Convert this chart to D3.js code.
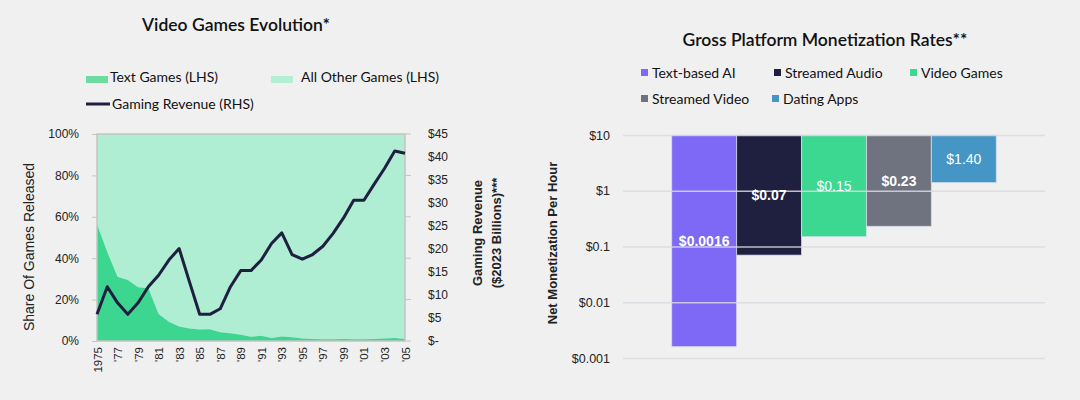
<!DOCTYPE html>
<html>
<head>
<meta charset="utf-8">
<script src="https://cdn.jsdelivr.net/npm/d3@7"></script>
<style>
  body { margin: 0; background: #f0f0f0; }
  svg { display: block; }
  .ttl { font-family: Lato, "Open Sans", sans-serif; fill: #111; }
  .ax { font-family: "Liberation Sans", Arial, sans-serif; fill: #222; }
</style>
</head>
<body>
<div class="chart"></div>
<script>
// left chart data
const years = d3.range(1975, 2006)
const textShare = [56.4, 43, 31, 29.5, 26, 25.5, 13, 9.3, 7, 6, 5.5, 5.7, 4.2, 3.7, 3, 2, 2.5, 1.5, 2.2, 1.8,
	1.2, 1.0, 0.8, 0.8, 1.0, 0.8, 0.8, 1.0, 1.2, 1.5, 1.0]
const revenue = [5.8, 11.8, 8.3, 5.8, 8.3, 11.8, 14.3, 17.6, 20.1, 12.9, 5.8, 5.8, 7, 11.8, 15.3, 15.3, 17.6, 21.2, 23.5, 18.8,
	17.8, 18.8, 20.6, 23.4, 26.7, 30.6, 30.6, 34.1, 37.5, 41.3, 40.8]
const shareTicks = [0, 20, 40, 60, 80, 100]
const revTicks = [0, 5, 10, 15, 20, 25, 30, 35, 40, 45]

// right chart data
const platforms = ["Text-based AI", "Streamed Audio", "Video Games", "Streamed Video", "Dating Apps"]
const rates = [0.0016, 0.07, 0.15, 0.23, 1.40]
const rateLabels = ["$0.0016", "$0.07", "$0.15", "$0.23", "$1.40"]
const labelBold = [true, true, false, true, false]
const platformColors = ["#7d69f5", "#1f1f40", "#3cd892", "#6f7380", "#4596c4"]
const logTicks = [0.001, 0.01, 0.1, 1, 10]
const logTickLabels = ["$0.001", "$0.01", "$0.1", "$1", "$10"]

const svg = d3.select(".chart").append("svg")
	.attr("width", 1080)
	.attr("height", 400)

// ---------- LEFT: Video Games Evolution ----------
const L = {left: 97, right: 405, top: 134, bottom: 341}
const x = d3.scaleLinear().domain([1975, 2005]).range([L.left, L.right])
const yL = d3.scaleLinear().domain([0, 100]).range([L.bottom, L.top])
const yR = d3.scaleLinear().domain([0, 45]).range([L.bottom, L.top])

svg.append("text").attr("class", "ttl")
	.attr("x", 236).attr("y", 31)
	.attr("text-anchor", "middle")
	.attr("font-size", "17.5px")
	.attr("font-weight", 600)
	.text("Video Games Evolution*")

// legend
const lg = svg.append("g").attr("class", "ttl").attr("font-size", "14px")
lg.append("rect").attr("x", 86).attr("y", 76).attr("width", 22).attr("height", 7).attr("fill", "#6fdc9f")
lg.append("text").attr("x", 110).attr("y", 82).text("Text Games (LHS)")
lg.append("rect").attr("x", 271).attr("y", 76).attr("width", 22).attr("height", 7).attr("fill", "#b4eed3")
lg.append("text").attr("x", 301).attr("y", 82).text("All Other Games (LHS)")
lg.append("line").attr("x1", 86).attr("x2", 110).attr("y1", 104).attr("y2", 104)
	.attr("stroke", "#1f1f40").attr("stroke-width", 3)
lg.append("text").attr("x", 112).attr("y", 109).text("Gaming Revenue (RHS)")

const rows = years.map((yr, i) => ({year: yr, text: textShare[i], rev: revenue[i]}))

svg.append("path").datum(rows)
	.attr("fill", "#b0eed3")
	.attr("d", d3.area().x(d => x(d.year)).y0(d => yL(d.text)).y1(yL(100)))
svg.append("path").datum(rows)
	.attr("fill", "#3dd690")
	.attr("d", d3.area().x(d => x(d.year)).y0(yL(0)).y1(d => yL(d.text)))

// frame
svg.append("rect")
	.attr("x", L.left).attr("y", L.top)
	.attr("width", L.right - L.left).attr("height", L.bottom - L.top)
	.attr("fill", "none").attr("stroke", "#c4c4c4").attr("stroke-width", 1.5)

// left axis
const yLAxis = d3.axisLeft(yL).tickValues(shareTicks).tickSize(5).tickPadding(13).tickFormat(d => d + "%")
const gL = svg.append("g").attr("class", "ax").attr("transform", "translate(" + L.left + ",0)").call(yLAxis)
gL.select(".domain").remove()
gL.selectAll("line").attr("stroke", "#c4c4c4")
gL.selectAll("text").attr("font-size", "12px").attr("font-family", null).attr("fill", "#222")

// right axis
const yRAxis = d3.axisRight(yR).tickValues(revTicks).tickSize(0).tickPadding(23)
	.tickFormat(d => d === 0 ? "$-" : "$" + d)
const gR = svg.append("g").attr("class", "ax").attr("transform", "translate(" + L.right + ",0)").call(yRAxis)
gR.select(".domain").remove()
gR.selectAll("text").attr("font-size", "12px").attr("font-family", null).attr("fill", "#222")

// small ticks on the right edge, at the LHS tick positions
svg.append("g").selectAll("line")
	.data(shareTicks)
	.enter()
	.append("line")
	.attr("x1", L.right).attr("x2", L.right + 6)
	.attr("y1", d => yL(d)).attr("y2", d => yL(d))
	.attr("stroke", "#c4c4c4")

// x axis
const xAxis = d3.axisBottom(x).tickValues(d3.range(1975, 2006, 2)).tickSize(0)
	.tickFormat(d => d === 1975 ? "1975" : "'" + String(d).slice(2))
const gX = svg.append("g").attr("class", "ax").attr("transform", "translate(0," + L.bottom + ")").call(xAxis)
gX.select(".domain").remove()
gX.selectAll("text")
	.attr("font-size", "11.5px").attr("font-family", null).attr("fill", "#222")
	.attr("text-anchor", "end")
	.attr("transform", "rotate(-90)")
	.attr("x", -6).attr("y", 0).attr("dy", "0.35em")

// revenue line
svg.append("path").datum(rows)
	.attr("fill", "none")
	.attr("stroke", "#1f1f40")
	.attr("stroke-width", 3)
	.attr("stroke-linejoin", "round")
	.attr("d", d3.line().x(d => x(d.year)).y(d => yR(d.rev)))

// axis titles
svg.append("text").attr("class", "ax")
	.attr("transform", "translate(34,247) rotate(-90)")
	.attr("text-anchor", "middle").attr("font-size", "14px")
	.text("Share Of Games Released")
const rt = svg.append("text").attr("class", "ax")
	.attr("transform", "translate(482,233) rotate(-90)")
	.attr("text-anchor", "middle").attr("font-size", "13px").attr("font-weight", "bold")
rt.append("tspan").attr("x", 0).attr("y", 0).text("Gaming Revenue")
rt.append("tspan").attr("x", 0).attr("y", 19).text("($2023 Billions)***")

// ---------- RIGHT: Gross Platform Monetization Rates ----------
const R = {left: 623, right: 1045, top: 135, bottom: 358}
const xb = d3.scaleBand().domain(platforms).range([R.left, R.right]).paddingInner(0).paddingOuter(0.75)
const yLog = d3.scaleLog().domain([0.001, 10]).range([R.bottom, R.top])

svg.append("text").attr("class", "ttl")
	.attr("x", 825).attr("y", 46)
	.attr("text-anchor", "middle")
	.attr("font-size", "17.5px")
	.attr("font-weight", 600)
	.text("Gross Platform Monetization Rates**")

// legend
const legPos = [[644, 73], [777, 73], [913, 73], [644, 99], [775, 99]]
const rl = svg.append("g").attr("class", "ttl").attr("font-size", "14px")
platforms.forEach((p, i) => {
	rl.append("rect").attr("x", legPos[i][0] - 3).attr("y", legPos[i][1] - 4)
		.attr("width", 7).attr("height", 7).attr("fill", platformColors[i])
	rl.append("text").attr("x", legPos[i][0] + 8).attr("y", legPos[i][1] + 5).text(p)
})

const bars = platforms.map((p, i) => ({name: p, v: rates[i], label: rateLabels[i], bold: labelBold[i], color: platformColors[i]}))

// bars hang from the $10 line down to the value
svg.append("g").selectAll("rect")
	.data(bars)
	.enter()
	.append("rect")
	.attr("x", d => xb(d.name))
	.attr("y", yLog(10))
	.attr("width", xb.bandwidth())
	.attr("height", d => yLog(d.v) - yLog(10))
	.attr("fill", d => d.color)
	.attr("stroke", "rgba(225,225,240,0.7)")
	.attr("stroke-width", 1)

// gridlines drawn over the bars
const yAx = d3.axisLeft(yLog).tickValues(logTicks).tickSize(-(R.right - R.left)).tickPadding(13)
	.tickFormat((d, i) => logTickLabels[i])
const gY = svg.append("g").attr("class", "ax").attr("transform", "translate(" + R.left + ",0)").call(yAx)
gY.select(".domain").remove()
gY.selectAll("line").attr("stroke", "#dadae2").attr("stroke-width", 1.5).attr("opacity", 0.85)
gY.selectAll("text").attr("font-size", "12.5px").attr("font-family", null).attr("fill", "#222")

svg.append("g").selectAll("text")
	.data(bars)
	.enter()
	.append("text")
	.attr("class", "ax")
	.attr("x", d => xb(d.name) + xb.bandwidth() / 2)
	.attr("y", d => (yLog(d.v) + yLog(10)) / 2)
	.attr("dy", "0.35em")
	.attr("text-anchor", "middle")
	.attr("font-size", "14px")
	.attr("font-weight", d => d.bold ? "bold" : "normal")
	.style("fill", "#fff")
	.text(d => d.label)

svg.append("text").attr("class", "ax")
	.attr("transform", "translate(557,243) rotate(-90)")
	.attr("text-anchor", "middle").attr("font-size", "13px").attr("font-weight", "bold")
	.text("Net Monetization Per Hour")
</script>
</body>
</html>
